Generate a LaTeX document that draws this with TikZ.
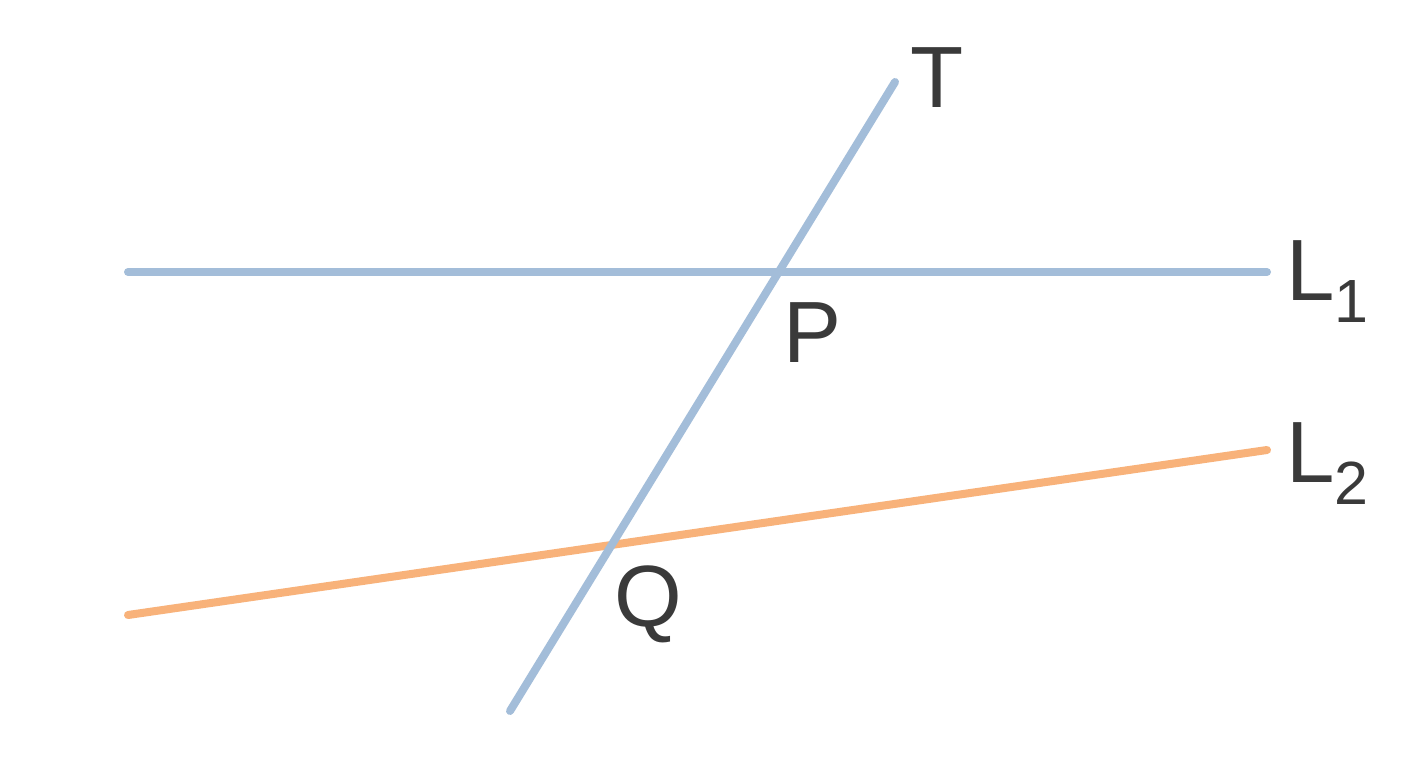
\documentclass[tikz,border=0pt]{standalone}
\usepackage{fontspec}
\setmainfont{Liberation Sans}
\definecolor{lblue}{HTML}{A3BDD9}
\definecolor{lorange}{HTML}{F8B27A}
\definecolor{txt}{HTML}{3A3A3A}
\begin{document}
\begin{tikzpicture}[x=1pt,y=-1pt,
  ln/.style={line width=8pt,line cap=round},
  lab/.style={anchor=base west,inner sep=0pt,text=txt,font=\fontsize{87}{87}\selectfont}]
\useasboundingbox[fill=white] (0,0) rectangle (1408,768);
\coordinate (l1a) at (128,272);
\coordinate (l1b) at (1267,272);
\coordinate (l2a) at (128,615);
\coordinate (l2b) at (1267,450);
\coordinate (ta) at (510,711);
\coordinate (tb) at (895,82);
\draw[ln,lblue] (l1a) -- (l1b);
\draw[ln,lorange] (l2a) -- (l2b);
\draw[ln,lblue] (ta) -- (tb);
\node[lab] (T) at (910,107) {T};
\node[lab] (L1) at (1286,300) {L\raisebox{-22pt}{\fontsize{61}{61}\selectfont 1}};
\node[lab] (L2) at (1286,482) {L\raisebox{-22pt}{\fontsize{61}{61}\selectfont 2}};
\node[lab] (P) at (783,362) {P};
\node[lab] (Q) at (614,626) {Q};
\end{tikzpicture}
\end{document}
